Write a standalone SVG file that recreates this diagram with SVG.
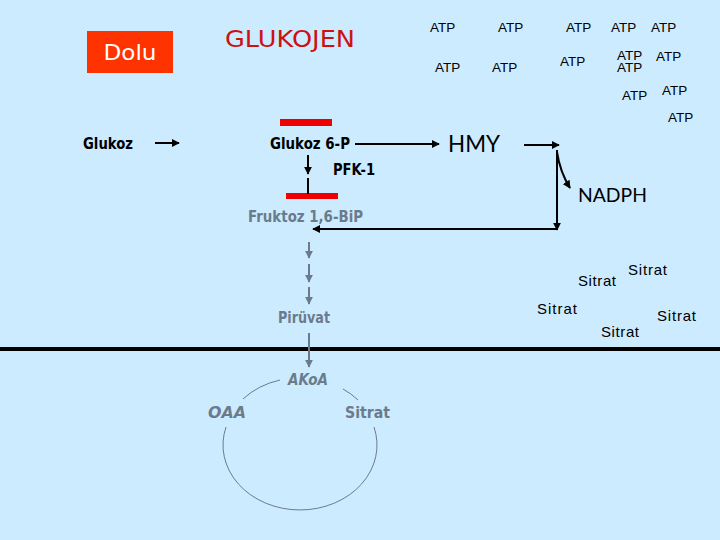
<svg xmlns="http://www.w3.org/2000/svg" width="720" height="540" viewBox="0 0 720 540">
<defs>
<marker id="ab" viewBox="0 0 10 10" refX="9" refY="5" markerWidth="5" markerHeight="5" orient="auto" markerUnits="userSpaceOnUse"><path d="M0,0 L10,5 L0,10 z" fill="#000"/></marker>
<marker id="ag" viewBox="0 0 10 10" refX="9" refY="5" markerWidth="8" markerHeight="8" orient="auto" markerUnits="userSpaceOnUse"><path d="M0,0 L10,5 L0,10 z" fill="#6B7B8C"/></marker>
<marker id="ak" viewBox="0 0 10 10" refX="9" refY="5" markerWidth="8" markerHeight="8" orient="auto" markerUnits="userSpaceOnUse"><path d="M0,0 L10,5 L0,10 z" fill="#000"/></marker>
</defs>
<style>
.c{font-family:"DejaVu Sans","Noto Sans",sans-serif;}
.a{font-family:"Liberation Sans",Arial,sans-serif;font-size:13.5px;fill:#000;}
.s{font-family:"Liberation Sans",Arial,sans-serif;font-size:15px;fill:#000;}
.g{fill:#6B7B8C;}
.k{stroke:#000;stroke-width:2;fill:none;}
.gl{stroke:#6B7B8C;stroke-width:2;fill:none;}
.cy{stroke:#6B7B8C;stroke-width:1;fill:none;}
</style>
<rect x="0" y="0" width="720" height="540" fill="#CCEBFF"/>
<rect x="0" y="347" width="720" height="4" fill="#000"/>

<g id="dolu"><rect x="87" y="31" width="86" height="42" fill="#FF3300"/><text x="130" y="60" class="c" font-size="21" fill="#FFFFFF" text-anchor="middle" textLength="53" lengthAdjust="spacingAndGlyphs">Dolu</text></g>
<g id="glukojen"><text x="225" y="47" class="c" font-size="23" fill="#CC1111" textLength="130" lengthAdjust="spacingAndGlyphs">GLUKOJEN</text></g>

<g id="atp">
<text x="430" y="32" class="a">ATP</text>
<text x="498" y="32" class="a">ATP</text>
<text x="566" y="32" class="a">ATP</text>
<text x="611" y="32" class="a">ATP</text>
<text x="651" y="32" class="a">ATP</text>
<text x="435" y="72" class="a">ATP</text>
<text x="492" y="72" class="a">ATP</text>
<text x="560" y="66" class="a">ATP</text>
<text x="617" y="60" class="a">ATP</text>
<text x="617" y="72" class="a">ATP</text>
<text x="656" y="61" class="a">ATP</text>
<text x="622" y="100" class="a">ATP</text>
<text x="662" y="95" class="a">ATP</text>
<text x="668" y="122" class="a">ATP</text>
</g>

<g id="glukoz"><text x="83" y="149" class="c" font-size="15" font-weight="bold" textLength="50" lengthAdjust="spacingAndGlyphs">Glukoz</text></g>
<g id="glukoz6p"><rect x="280" y="119" width="52" height="7" fill="#EE0000"/><text x="270" y="149" class="c" font-size="15" font-weight="bold" textLength="80" lengthAdjust="spacingAndGlyphs">Glukoz 6-P</text></g>
<g id="pfk1"><text x="333" y="175" class="c" font-size="15" font-weight="bold" textLength="42" lengthAdjust="spacingAndGlyphs">PFK-1</text></g>
<g id="fruktoz"><rect x="286" y="193" width="52" height="6" fill="#EE0000"/><text x="248" y="222" class="c g" font-size="15" font-weight="bold" textLength="115" lengthAdjust="spacingAndGlyphs">Fruktoz 1,6-BiP</text></g>
<g id="hmy"><text x="448" y="152" font-family="Lato,'Open Sans',sans-serif" font-size="23" fill="#000" textLength="52" lengthAdjust="spacingAndGlyphs">HMY</text></g>
<g id="nadph"><text x="578" y="202" font-family="Lato,'Open Sans',sans-serif" font-size="19" fill="#000" textLength="69" lengthAdjust="spacingAndGlyphs">NADPH</text></g>
<g id="piruvat"><text x="278" y="323" class="c g" font-size="15" font-weight="bold" textLength="52" lengthAdjust="spacingAndGlyphs">Pirüvat</text></g>
<g id="akoa"><text x="288" y="385" class="c g" font-size="15" font-weight="bold" font-style="italic" textLength="40" lengthAdjust="spacingAndGlyphs">AKoA</text></g>
<g id="oaa"><text x="208" y="418" class="c g" font-size="15" font-weight="bold" font-style="italic" textLength="38" lengthAdjust="spacingAndGlyphs">OAA</text></g>
<g id="sitrat-c"><text x="345" y="418" class="c g" font-size="15" font-weight="bold" textLength="45" lengthAdjust="spacingAndGlyphs">Sitrat</text></g>

<g id="sitrat">
<text x="578" y="286" class="s" textLength="38">Sitrat</text>
<text x="628" y="275" class="s" textLength="39">Sitrat</text>
<text x="537" y="314" class="s" textLength="40">Sitrat</text>
<text x="657" y="321" class="s" textLength="39">Sitrat</text>
<text x="601" y="337" class="s" textLength="38">Sitrat</text>
</g>

<g id="connectors">
<line x1="155" y1="143" x2="179" y2="143" class="k" marker-end="url(#ak)"/>
<line x1="355" y1="144" x2="439" y2="144" class="k" marker-end="url(#ak)"/>
<line x1="524" y1="145" x2="559" y2="145" class="k" marker-end="url(#ak)"/>
<line x1="557" y1="150" x2="557" y2="230" class="k" marker-end="url(#ak)"/>
<path d="M557,152 Q560,172 570,188" class="k" marker-end="url(#ak)"/>
<line x1="557" y1="229" x2="313" y2="229" class="k" marker-end="url(#ak)"/>
<line x1="308" y1="155" x2="308" y2="174" class="k" marker-end="url(#ak)"/>
<line x1="308" y1="178" x2="308" y2="194" class="k"/>
<line x1="309" y1="242" x2="309" y2="258" class="gl" marker-end="url(#ag)"/>
<line x1="309" y1="264" x2="309" y2="282" class="gl" marker-end="url(#ag)"/>
<line x1="309" y1="287" x2="309" y2="304" class="gl" marker-end="url(#ag)"/>
<line x1="309" y1="333" x2="309" y2="367" class="gl" marker-end="url(#ag)"/>
<path d="M243,399 A77,65 0 0 1 280,380" class="cy"/>
<path d="M343,389 A77,65 0 0 1 358,400" class="cy"/>
<path d="M374,427 A77,65 0 1 1 226,427" class="cy"/>
</g>
</svg>
